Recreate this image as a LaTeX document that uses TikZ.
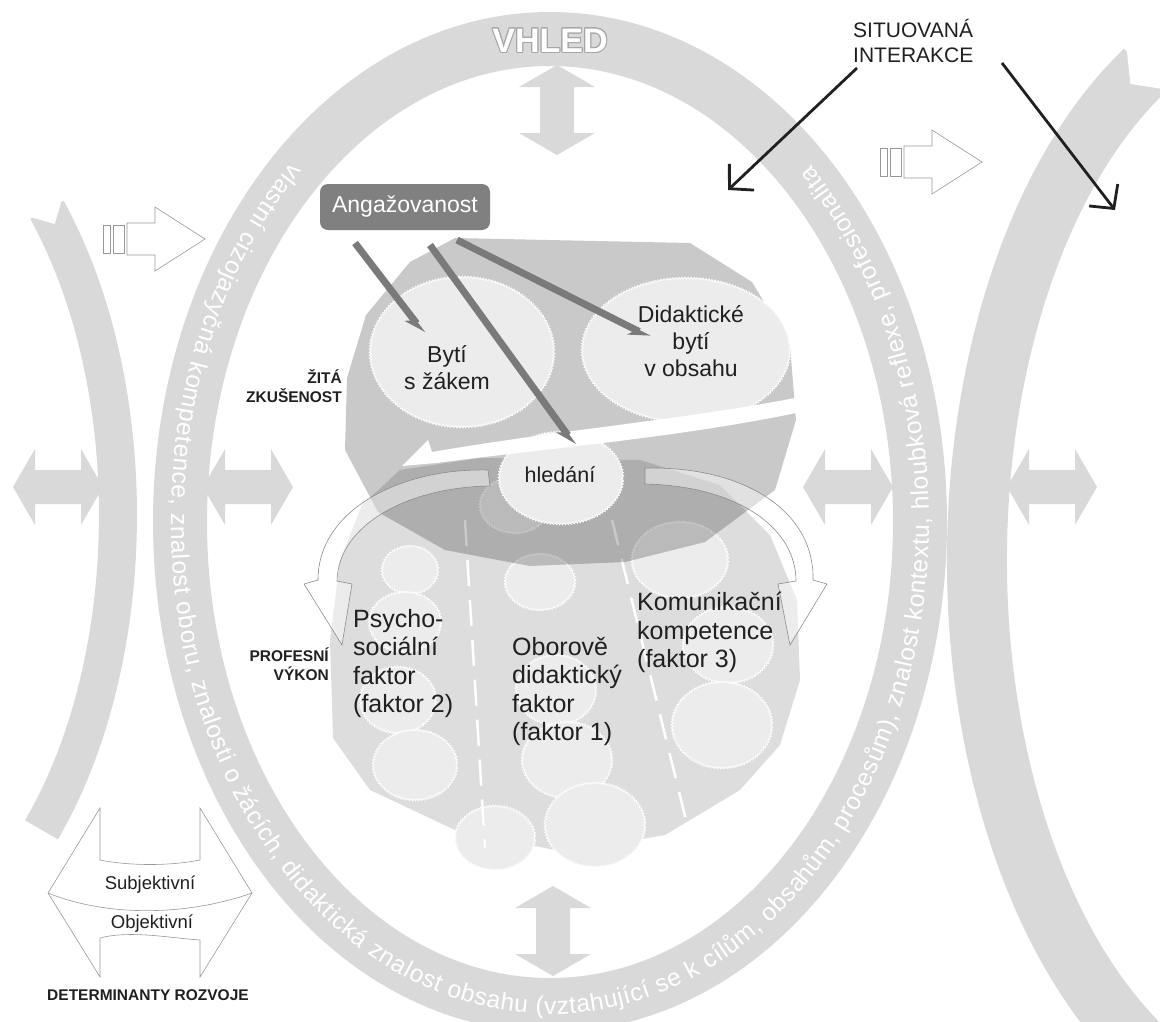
\documentclass[tikz,border=0pt]{standalone}
\usepackage{fontspec}
\setmainfont{Liberation Sans}
\usepackage{contour}
\contourlength{1.1pt}
\usetikzlibrary{arrows.meta,decorations.text,decorations.pathmorphing}

\definecolor{ringgray}{RGB}{217,217,217}
\definecolor{lowergray}{RGB}{221,221,221}
\definecolor{bubblegray}{RGB}{236,236,236}
\definecolor{boxgray}{RGB}{128,128,128}
\definecolor{pullgray}{RGB}{122,122,122}
\definecolor{inkgray}{RGB}{32,32,32}

\tikzset{
  bubble/.style={fill=bubblegray, postaction={decorate, draw=white, line width=0.7pt,
      decoration={zigzag, amplitude=1pt, segment length=3pt}}},
  hollow/.style={fill=white, draw=black!40, line width=0.6pt},
  swing/.style={fill=white, fill opacity=0.45, draw=black!45, line width=0.6pt},
  angbox/.style={fill=boxgray, rounded corners=8pt, minimum width=170pt, minimum height=46pt,
      text=white, font=\fontsize{23}{23}\selectfont},
  pull/.style={draw=pullgray, line width=7pt, -{Stealth[length=18pt, width=16pt, harpoon, swap]}},
  situ/.style={draw=inkgray, line width=2.8pt, -{Straight Barb[length=17pt, width=36pt]}},
  factor/.style={font=\fontsize{25}{28.5}\selectfont, text=inkgray, align=left, inner sep=0pt},
  bubbletext/.style={font=\fontsize{23}{27}\selectfont, text=inkgray, align=center, inner sep=0pt},
  tag/.style={font=\bfseries\fontsize{15.5}{19}\selectfont, text=inkgray, align=right, inner sep=0pt},
}

% grey double block arrows
\newcommand\sidearrow[2]{\fill[ringgray] (#1-45,#2) -- ++(22,38) -- ++(0,-21) -- ++(46,0) -- ++(0,21)
  -- ++(22,-38) -- ++(-22,-38) -- ++(0,21) -- ++(-46,0) -- ++(0,-21) -- cycle;}
\newcommand\vertarrow[2]{\fill[ringgray] (#1,#2+45) -- ++(38,-22) -- ++(-21,0) -- ++(0,-46) -- ++(21,0)
  -- ++(-38,-22) -- ++(-38,22) -- ++(21,0) -- ++(0,46) -- ++(-21,0) -- cycle;}
% outlined arrow with two bars
\newcommand\hollowarrow[2]{%
  \draw[hollow] (#1,#2-14) rectangle ++(7,28);
  \draw[hollow] (#1+10,#2-14) rectangle ++(11,28);
  \draw[hollow] (#1+24,#2-16) -- ++(28,0) -- ++(0,-16) -- (#1+102,#2) -- (#1+52,#2+32)
    -- ++(0,-16) -- ++(-28,0) -- cycle;}

\begin{document}
\begin{tikzpicture}[x=1pt,y=1pt]
\useasboundingbox (0,0) rectangle (1160,-1021);

% rings
\draw[ringgray, line width=54pt] (550,-522) ellipse [x radius=370, y radius=483];
\draw[ringgray, line width=38pt] (-150,-515) ++(42.7:268 and 450)
  arc[start angle=42.7, end angle=-44.4, x radius=268, y radius=450];
\fill[white] (62.3,-198.3) -- (54.7,-224) -- (28.9,-216.5) -- cycle;
\draw[ringgray, line width=60pt] (1303,-560) ++(119:326 and 560)
  arc[start angle=119, end angle=250, x radius=326, y radius=560];
\fill[white] (1126.4,-46.4) -- (1130.4,-84) -- (1167.8,-89.8) -- cycle;

\path[decorate, decoration={text along path, text align={fit to path},
  text={|\fontsize{24.5}{24.5}\selectfont\color{white}|vlastní cizojazyčná kompetence, znalost oboru, znalosti o žácích, didaktická znalost obsahu (vztahující se k cílům, obsahům, procesům), znalost kontextu, hloubková reflexe, profesionalita}}]
  (550,-522) ++(133:379 and 492) arc[start angle=133, end angle=406.5, x radius=379, y radius=492];

\node[font=\bfseries\fontsize{34}{34}\selectfont, text=white] (vhled) at (550,-41) {\contour{black!35}{VHLED}};

% block arrows
\sidearrow{58}{-487}
\sidearrow{248}{-487}
\sidearrow{848}{-487}
\sidearrow{1052}{-487}
\vertarrow{557}{-110}
\vertarrow{553}{-931}
\hollowarrow{103}{-239}
\hollowarrow{880}{-162}

% profesni vykon
\fill[lowergray] (400,-470) -- (480,-458) -- (640,-460) -- (720,-485) -- (770,-535) -- (797,-600)
  -- (800,-680) -- (780,-745) -- (740,-790) -- (665,-835) -- (565,-852) -- (455,-830) -- (370,-790)
  -- (333,-738) -- (330,-640) -- (340,-560) -- (362,-505) -- cycle;
\foreach \x/\y/\a/\b in {410/570/28/24, 405/622/36/30, 398/700/38/33, 415/765/42/35,
    540/582/35/28, 556/690/40/35, 567/760/45/38, 495/838/40/32, 595/825/50/42,
    680/560/48/38, 728/645/45/38, 722/725/50/43, 515/505/35/28}
  \path[bubble] (\x,-\y) ellipse [x radius=\a, y radius=\b];
\draw[white, line width=2.5pt, dash pattern=on 26pt off 14pt] (465,-520) -- (485,-848);
\draw[white, line width=2.5pt, dash pattern=on 26pt off 14pt] (612,-520) -- (686,-820);

% zita zkusenost
\fill[black, opacity=0.21] (455,-238) -- (690,-243) -- (752,-282) -- (790,-345) -- (796,-420)
  -- (775,-490) -- (705,-542) -- (625,-562) -- (530,-566) -- (445,-550) -- (378,-512) -- (345,-450)
  -- (347,-378) -- (366,-315) -- (410,-262) -- cycle;
\path[bubble] (462,-352) ellipse [x radius=92, y radius=75];
\path[bubble] (686,-350) ellipse [x radius=104, y radius=72];
\path[bubble] (561,-478) ellipse [x radius=62, y radius=46];
\fill[white] (402,-466) -- (428,-440) -- (432,-452) .. controls (560,-430) and (680,-420) .. (795,-398)
  -- (796,-413) .. controls (680,-437) and (560,-447) .. (436,-463) -- cycle;

% curved arrows from hledani
\draw[swing] (488,-470) .. controls (400,-468) and (318,-510) .. (318,-580) -- (304,-584) -- (342,-645)
  -- (352,-584) -- (337,-581) .. controls (338,-525) and (408,-487) .. (490,-486) -- cycle;
\draw[swing] (645,-468) .. controls (750,-466) and (815,-515) .. (813,-580) -- (827,-584) -- (790,-645)
  -- (778,-584) -- (796,-581) .. controls (796,-528) and (738,-486) .. (645,-484) -- cycle;

% angazovanost
\node[angbox] (ang) at (405,-207) {Angažovanost};
\coordinate (angA) at (355,-243);
\coordinate (angB) at (430,-245);
\coordinate (angC) at (457,-240);
\coordinate (bytiTip) at (424,-333);
\coordinate (hledTip) at (575,-445);
\coordinate (didTip) at (650,-337);
\draw[pull] (angA) -- (bytiTip);
\draw[pull] (angB) -- (hledTip);
\draw[pull] (angC) -- (didTip);

\node[bubbletext, anchor=north] (byti) at (447,-345) {Bytí\\s žákem};
\node[bubbletext, anchor=north] (didbyti) at (691,-305) {Didaktické\\bytí\\v obsahu};
\node[font=\fontsize{21.5}{21.5}\selectfont, text=inkgray, anchor=base] (hledani) at (560,-482) {hledání};

\node[factor, anchor=north west] (psycho) at (353,-609) {Psycho-\\sociální\\faktor\\(faktor 2)};
\node[factor, anchor=north west] (oborove) at (512,-637) {Oborově\\didaktický\\faktor\\(faktor 1)};
\node[factor, anchor=north west] (komunik) at (637,-592) {Komunikační\\kompetence\\(faktor 3)};

\node[tag, anchor=north east] (zita) at (342,-369) {ŽITÁ\\ZKUŠENOST};
\node[tag, anchor=north east] (profes) at (329,-648) {PROFESNÍ\\VÝKON};

% situovana interakce
\node[font=\fontsize{21}{25}\selectfont, text=inkgray, align=left, anchor=north west, inner sep=0pt]
  (situ) at (853,-19) {SITUOVANÁ\\INTERAKCE};
\coordinate (situA) at (857,-68);
\coordinate (situAend) at (728,-190);
\coordinate (situB) at (1002,-63);
\coordinate (situBend) at (1115,-210);
\draw[situ] (situA) -- (situAend);
\draw[situ] (situB) -- (situBend);

% determinanty
\draw[hollow] (48,-893) -- (100,-808) -- (100,-860) .. controls (130,-866) and (170,-866) .. (200,-860)
  -- (200,-808) -- (252,-893) -- (200,-977) -- (200,-940) .. controls (170,-938) and (130,-930) .. (100,-938)
  -- (100,-977) -- cycle;
\draw[black!40, line width=0.6pt] (48,-893) .. controls (110,-918) and (190,-915) .. (252,-893);
\node[font=\fontsize{18.5}{18.5}\selectfont, text=inkgray, anchor=base] (subj) at (150,-889) {Subjektivní};
\node[font=\fontsize{18.5}{18.5}\selectfont, text=inkgray, anchor=base] (obj) at (152,-928) {Objektivní};
\node[tag, anchor=base] (determ) at (148,-1000) {DETERMINANTY ROZVOJE};
\end{tikzpicture}
\end{document}
